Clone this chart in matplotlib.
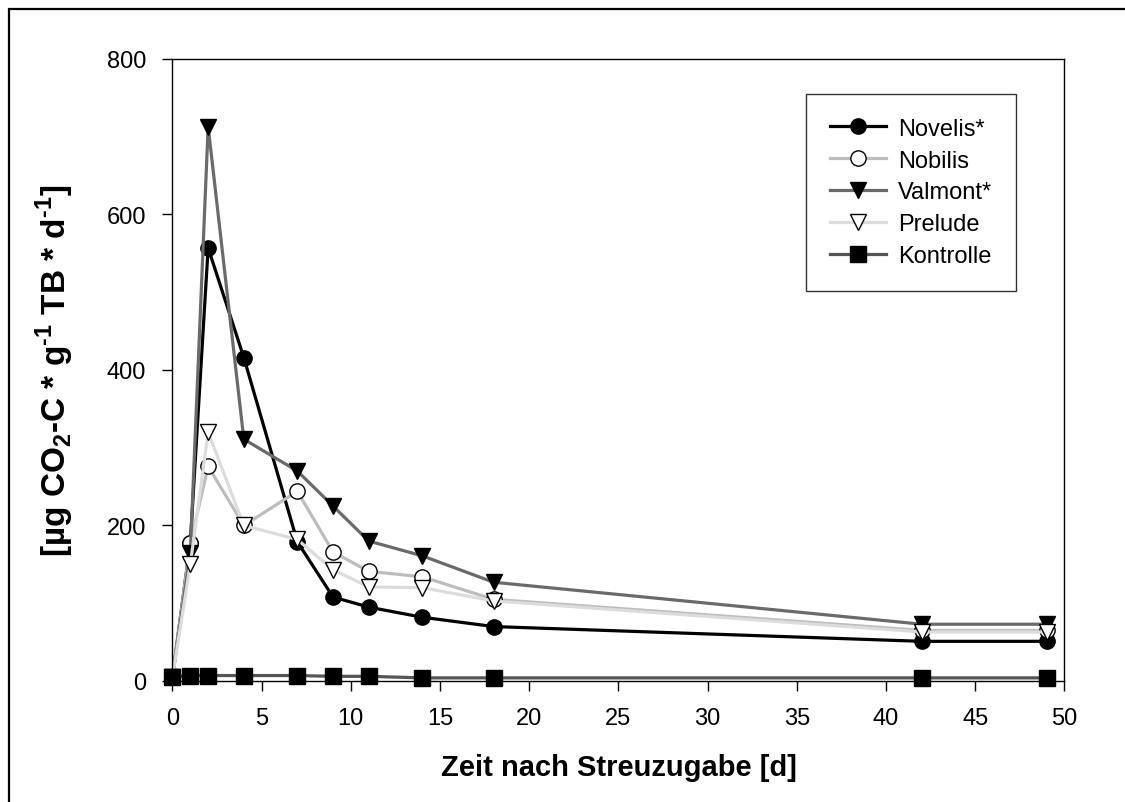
import matplotlib
matplotlib.use("Agg")
import matplotlib.pyplot as plt
from matplotlib.patches import Rectangle

plt.rcParams['font.family'] = ['Liberation Sans', 'DejaVu Sans']

# Tage nach Streuzugabe
days = [0, 1, 2, 4, 7, 9, 11, 14, 18, 42, 49]

novelis = [5, 178, 557, 416, 179, 108, 95, 82, 70, 51, 51]
nobilis = [5, 177, 276, 200, 244, 166, 141, 134, 105, 65, 65]
valmont = [5, 165, 713, 311, 270, 225, 180, 161, 127, 73, 73]
prelude = [5, 150, 320, 200, 182, 143, 121, 120, 103, 63, 63]
kontrolle = [5, 7, 7, 7, 7, 6, 6, 4, 4, 4, 4]

names = ["Novelis*", "Nobilis", "Valmont*", "Prelude", "Kontrolle"]

fig = plt.figure(figsize=(11.25, 8.03), dpi=100)
ax = fig.add_axes([0.1533, 0.1507, 0.9462 - 0.1533, 0.9253 - 0.1507])

# outer frame (cut off on right and bottom like in the original)
fig.patches.append(Rectangle((9 / 1125, -0.05), 1.2, 1 - 10 / 803 + 0.05,
                             transform=fig.transFigure, fill=False,
                             edgecolor="black", linewidth=1.6))

styles = [
    dict(color="black", marker="o", mfc="black", mec="black"),
    dict(color="#bdbdbd", marker="o", mfc="white", mec="black"),
    dict(color="#6a6a6a", marker="v", mfc="black", mec="black"),
    dict(color="#dcdcdc", marker="v", mfc="white", mec="black"),
    dict(color="#555555", marker="s", mfc="black", mec="black"),
]
series = [novelis, nobilis, valmont, prelude, kontrolle]

for ys, name, st in zip(series, names, styles):
    ax.plot(days, ys, label=name, linewidth=2.3, markersize=11,
            markeredgewidth=1.0, clip_on=False, **st)

ax.set_xlim(0, 50)
ax.set_ylim(0, 800)
ax.set_xticks(range(0, 51, 5))
ax.set_yticks(range(0, 801, 200))
ax.tick_params(direction="out", length=7, width=1, labelsize=17, pad=12)
for sp in ax.spines.values():
    sp.set_linewidth(1)

ax.set_xlabel("Zeit nach Streuzugabe [d]", fontsize=21, fontweight="bold",
              labelpad=17)
ax.set_ylabel("[µg CO$_\\mathregular{2}$-C * g$^\\mathregular{\u2010 1}$ TB * "
              "d$^\\mathregular{\u2010 1}$]",
              fontsize=24, fontweight="bold", labelpad=22)

leg = ax.legend(loc="upper right", bbox_to_anchor=(0.9456, 0.9437),
                fontsize=17, frameon=True, fancybox=False, handlelength=2.4,
                handletextpad=0.5, labelspacing=0.42, borderpad=1.0,
                borderaxespad=0)
leg.get_frame().set_edgecolor("black")
leg.get_frame().set_linewidth(1)

fig.savefig("out.png", dpi=100)
